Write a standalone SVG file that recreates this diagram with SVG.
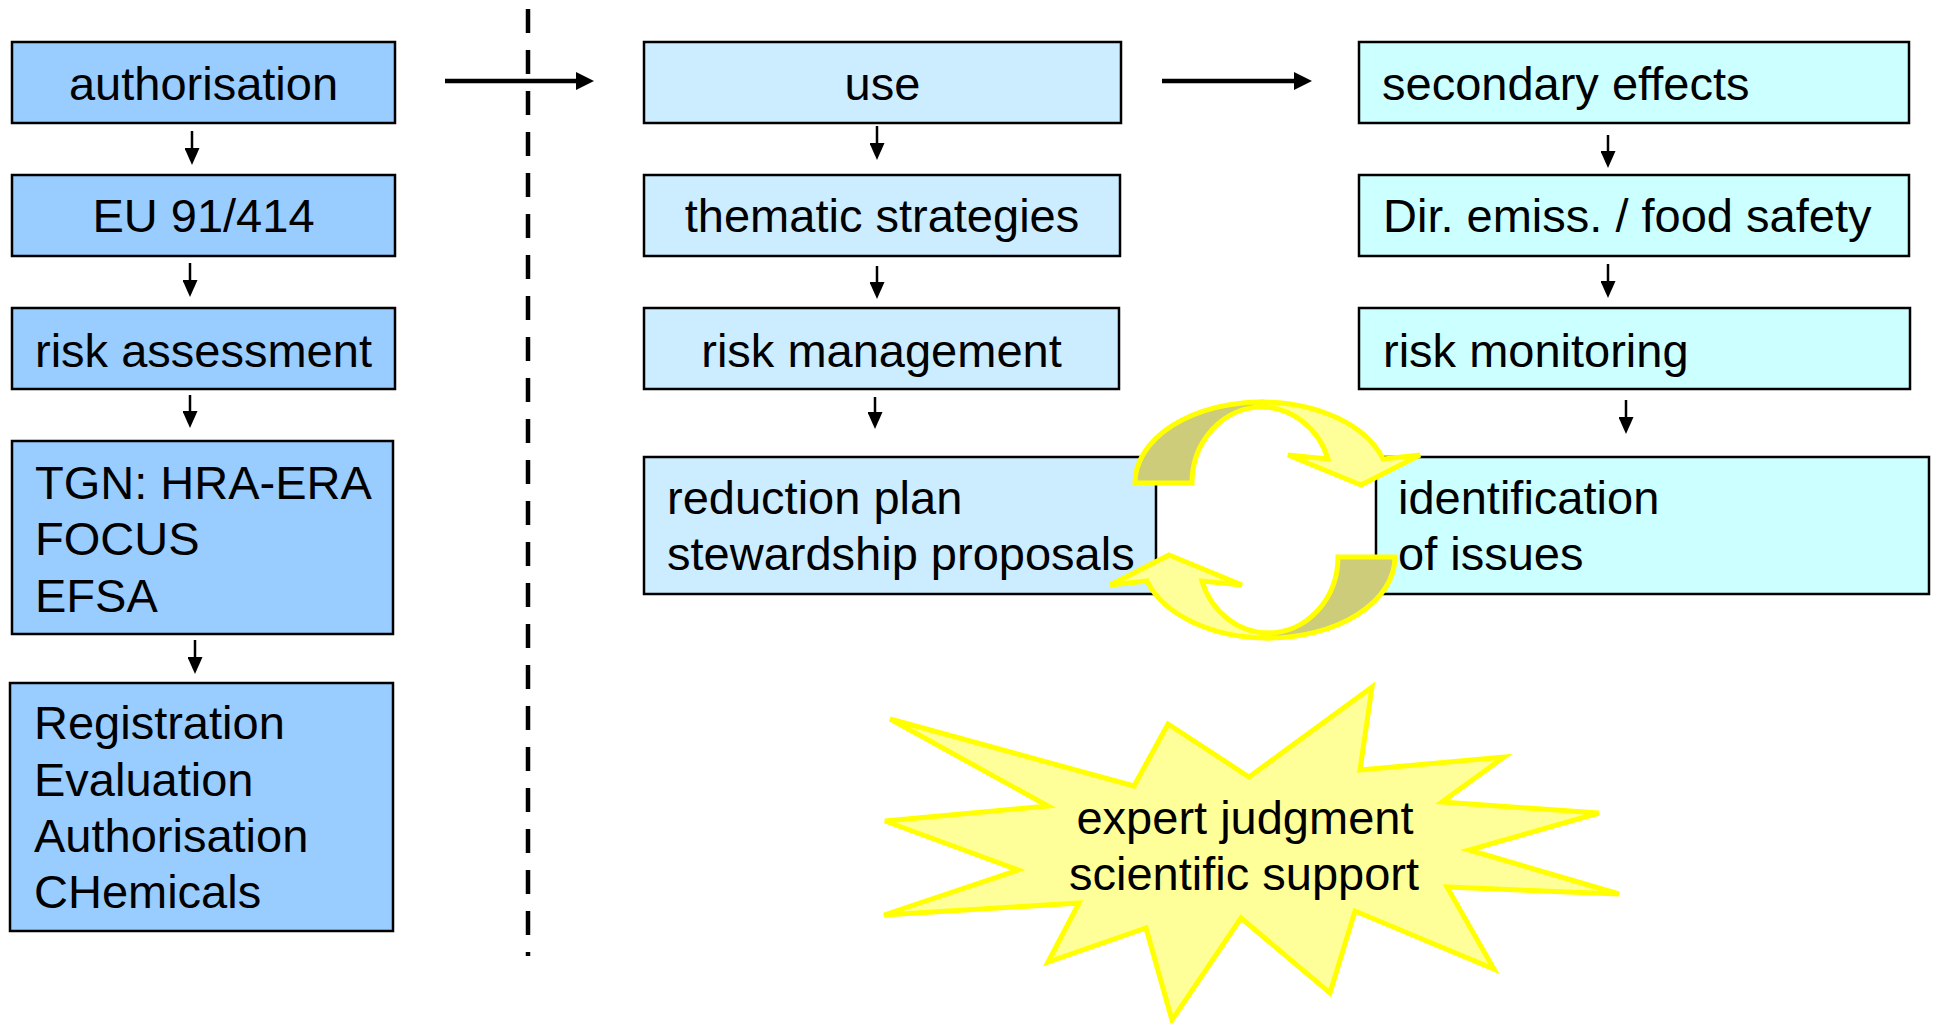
<svg xmlns="http://www.w3.org/2000/svg" width="1934" height="1023" viewBox="0 0 1934 1023">
<style>
.t{font-family:"Liberation Sans",Arial,Helvetica,sans-serif;font-size:47px;fill:#000}
.c{text-anchor:middle}
.box{stroke:#000;stroke-width:2.5}
.b1{fill:#99CCFF}
.b2{fill:#CCECFF}
.b3{fill:#CCFFFF}
.va{stroke:#000;stroke-width:2.5;fill:none;marker-end:url(#ah)}
.ha{stroke:#000;stroke-width:4.5;fill:none;marker-end:url(#ahb)}
.cyc{stroke:#FFFF00;stroke-width:5;stroke-linejoin:miter}
</style>
<defs>
<marker id="ah" markerUnits="userSpaceOnUse" viewBox="0 0 17 15" markerWidth="17" markerHeight="15" refX="8" refY="7.5" orient="auto">
<path d="M0,0 L17,7.5 L0,15 Z" fill="#000"/>
</marker>
<marker id="ahb" markerUnits="userSpaceOnUse" viewBox="0 0 18 18" markerWidth="18" markerHeight="18" refX="9" refY="9" orient="auto">
<path d="M0,0 L18,9 L0,18 Z" fill="#000"/>
</marker>
<g id="cycArrow">
<path class="cyc" fill="#FFFF99" d="M1262,402 A127,81 0 0 1 1383,459 L1420,455 L1361,485 L1288,455 L1328,459 A70,76 0 0 0 1262,407 Z"/>
<path class="cyc" fill="#CCCC7A" d="M1135,483 A127,81 0 0 1 1262,402 L1262,407 A70,76 0 0 0 1192,483 Z"/>
</g>
</defs>
<rect width="1934" height="1023" fill="#fff"/>

<g id="connectors">
<line x1="528" y1="9" x2="528" y2="956" stroke="#000" stroke-width="4.5" stroke-dasharray="24 17"/>
<line class="ha" x1="445" y1="81" x2="585" y2="81"/>
<line class="ha" x1="1162" y1="81" x2="1303" y2="81"/>
<line class="va" x1="192" y1="131" x2="192" y2="156"/>
<line class="va" x1="190" y1="263" x2="190" y2="288"/>
<line class="va" x1="190" y1="395" x2="190" y2="419"/>
<line class="va" x1="195" y1="640" x2="195" y2="665"/>
<line class="va" x1="877" y1="126" x2="877" y2="151"/>
<line class="va" x1="877" y1="266" x2="877" y2="290"/>
<line class="va" x1="875" y1="397" x2="875" y2="420"/>
<line class="va" x1="1608" y1="135" x2="1608" y2="159"/>
<line class="va" x1="1608" y1="264" x2="1608" y2="289"/>
<line class="va" x1="1626" y1="400" x2="1626" y2="425"/>
</g>

<g id="n-authorisation"><rect class="box b1" x="12" y="42" width="383" height="81"/><text class="t c" x="203.5" y="100">authorisation</text></g>
<g id="n-eu"><rect class="box b1" x="12" y="175" width="383" height="81"/><text class="t c" x="203.5" y="232">EU 91/414</text></g>
<g id="n-riskassessment"><rect class="box b1" x="12" y="308" width="383" height="81"/><text class="t c" x="203.5" y="367">risk assessment</text></g>
<g id="n-tgn"><rect class="box b1" x="12" y="441" width="381" height="193"/>
<text class="t" x="35" y="499">TGN: HRA-ERA</text><text class="t" x="35" y="555">FOCUS</text><text class="t" x="35" y="612">EFSA</text></g>
<g id="n-reach"><rect class="box b1" x="10" y="683" width="383" height="248"/>
<text class="t" x="34" y="739">Registration</text><text class="t" x="34" y="796">Evaluation</text><text class="t" x="34" y="852">Authorisation</text><text class="t" x="34" y="908">CHemicals</text></g>

<g id="n-use"><rect class="box b2" x="644" y="42" width="477" height="81"/><text class="t c" x="882.5" y="100">use</text></g>
<g id="n-thematic"><rect class="box b2" x="644" y="175" width="476" height="81"/><text class="t c" x="882" y="232">thematic strategies</text></g>
<g id="n-riskmanagement"><rect class="box b2" x="644" y="308" width="475" height="81"/><text class="t c" x="881.5" y="367">risk management</text></g>
<g id="n-reduction"><rect class="box b2" x="644" y="457" width="512" height="137"/>
<text class="t" x="667" y="514">reduction plan</text><text class="t" x="667" y="570">stewardship proposals</text></g>

<g id="n-secondary"><rect class="box b3" x="1359" y="42" width="550" height="81"/><text class="t" x="1382" y="100">secondary effects</text></g>
<g id="n-dir"><rect class="box b3" x="1359" y="175" width="550" height="81"/><text class="t" x="1383" y="232">Dir. emiss. / food safety</text></g>
<g id="n-riskmonitoring"><rect class="box b3" x="1359" y="308" width="551" height="81"/><text class="t" x="1383" y="367">risk monitoring</text></g>
<g id="n-identification"><rect class="box b3" x="1376" y="457" width="553" height="137"/>
<text class="t" x="1398" y="514">identification</text><text class="t" x="1398" y="570">of issues</text></g>

<g id="n-cycle">
<use href="#cycArrow"/>
<use href="#cycArrow" transform="rotate(180 1265 520)"/>
</g>

<g id="n-expert">
<polygon fill="#FFFF99" stroke="#FFFF00" stroke-width="5" points="890,719 1134,786 1168,724 1249,777 1372,687 1360,770 1504,757 1442,802 1599,813 1469,850 1619,894 1447,887 1494,969 1355,911 1330,993 1241,918 1172,1020 1146,928 1048,962 1079,903 884,915 1018,870 885,821 1048,806"/>
<text class="t c" x="1245" y="834">expert judgment</text>
<text class="t c" x="1244" y="890">scientific support</text>
</g>
</svg>
